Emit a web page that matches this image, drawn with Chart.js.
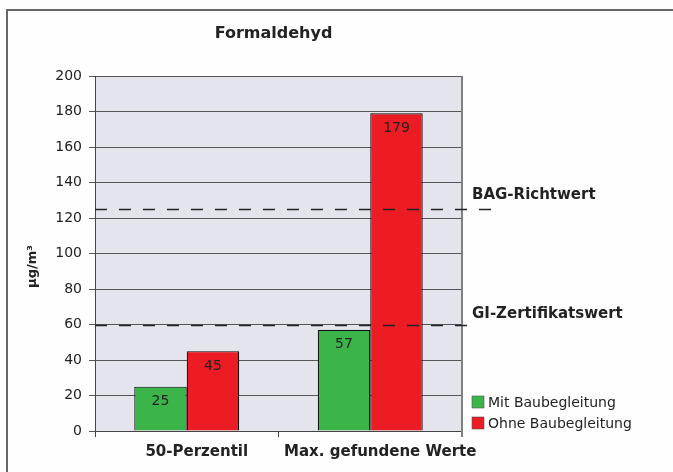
<!DOCTYPE html>
<html>
<head>
<meta charset="utf-8">
<script src="https://cdn.jsdelivr.net/npm/chart.js@4"></script>
<style>
html,body{margin:0;padding:0;background:#fdfefd;}
#wrap{position:relative;width:673px;height:472px;}
canvas{display:block;}
</style>
</head>
<body>
<div id="wrap"><canvas id="c" width="673" height="472"></canvas></div>
<script>
const categories = ['50-Perzentil', 'Max. gefundene Werte'];
const mitBaubegleitung = [25, 57];
const ohneBaubegleitung = [45, 179];
const seriesNames = ['Mit Baubegleitung', 'Ohne Baubegleitung'];
const yTicks = [0, 20, 40, 60, 80, 100, 120, 140, 160, 180, 200];
const refValues = [125, 60];
const refLabels = ['BAG-Richtwert', 'GI-Zertifikatswert'];
const chartTitle = 'Formaldehyd';
const yTitle = 'µg/m³';

const GREEN = '#3bb54a';
const RED = '#ec1c24';

const decor = {
  id: 'decor',
  beforeDraw(chart) {
    const ctx = chart.ctx, a = chart.chartArea;
    ctx.save();
    ctx.fillStyle = '#fdfefd';
    ctx.fillRect(0, 0, chart.width, chart.height);
    ctx.strokeStyle = '#666';
    ctx.lineWidth = 2;
    ctx.beginPath();
    ctx.moveTo(7, chart.height + 2); ctx.lineTo(7, 10); ctx.lineTo(chart.width + 2, 10);
    ctx.stroke();
    ctx.fillStyle = '#e4e4ec';
    ctx.fillRect(a.left, a.top, a.right - a.left, a.bottom - a.top);
    ctx.restore();
  },
  afterDatasetsDraw(chart) {
    const ctx = chart.ctx, a = chart.chartArea, ys = chart.scales.y;
    ctx.save();
    ctx.strokeStyle = '#808080';
    ctx.lineWidth = 2;
    ctx.beginPath();
    ctx.moveTo(a.right, a.top); ctx.lineTo(a.right, a.bottom + 6);
    ctx.stroke();
    ctx.fillStyle = '#222';
    ctx.font = '14px "DejaVu Sans"';
    ctx.textAlign = 'center';
    ctx.textBaseline = 'middle';
    chart.data.datasets.forEach((ds, di) => {
      chart.getDatasetMeta(di).data.forEach((bar, i) => {
        ctx.fillText(String(ds.data[i]), bar.x, bar.y + 15);
      });
    });
    const ends = [a.right + 36, a.right + 8];
    const labelDy = [-14, -10];
    ctx.strokeStyle = '#222';
    ctx.lineWidth = 1.3;
    ctx.setLineDash([12, 12]);
    refValues.forEach((v, i) => {
      const y = Math.round(ys.getPixelForValue(v)) + 0.5;
      ctx.beginPath();
      ctx.moveTo(a.left, y); ctx.lineTo(ends[i], y);
      ctx.stroke();
    });
    ctx.setLineDash([]);
    ctx.font = 'bold 15px "DejaVu Sans"';
    ctx.textAlign = 'left';
    ctx.fillStyle = '#222';
    refValues.forEach((v, i) => {
      const y = ys.getPixelForValue(v);
      ctx.fillText(refLabels[i], a.right + 10, y + labelDy[i]);
    });
    ctx.font = 'bold 16px "DejaVu Sans"';
    ctx.textAlign = 'center';
    ctx.fillText(chartTitle, (a.left + a.right) / 2 - 5, 34);
    ctx.save();
    ctx.translate(33, (a.top + a.bottom) / 2 + 13);
    ctx.rotate(-Math.PI / 2);
    ctx.font = 'bold 13px "DejaVu Sans"';
    ctx.fillText(yTitle, 0, 0);
    ctx.restore();
    ctx.font = '14px "DejaVu Sans"';
    ctx.textAlign = 'left';
    chart.data.datasets.forEach((ds, i) => {
      const y = 402 + i * 21;
      ctx.fillStyle = ds.backgroundColor;
      ctx.fillRect(a.right + 10, y - 6, 12, 12);
      ctx.strokeStyle = '#555';
      ctx.lineWidth = 0.6;
      ctx.strokeRect(a.right + 10, y - 6, 12, 12);
      ctx.fillStyle = '#222';
      ctx.fillText(ds.label, a.right + 26, y + 1);
    });
    ctx.restore();
  }
};

new Chart(document.getElementById('c'), {
  type: 'bar',
  data: {
    labels: categories,
    datasets: [
      { label: seriesNames[0], data: mitBaubegleitung, backgroundColor: GREEN, borderColor: '#111', borderWidth: 1.2 },
      { label: seriesNames[1], data: ohneBaubegleitung, backgroundColor: RED, borderColor: '#111', borderWidth: 1.2 }
    ]
  },
  options: {
    responsive: false,
    animation: false,
    devicePixelRatio: 1,
    layout: { padding: { top: 76, right: 211, left: 0, bottom: 0 } },
    datasets: { bar: { categoryPercentage: 0.572, barPercentage: 1.0 } },
    plugins: { legend: { display: false }, tooltip: { enabled: false }, title: { display: false } },
    scales: {
      x: {
        offset: true,
        grid: { offset: true, drawOnChartArea: false, color: '#444', tickLength: 6 },
        border: { color: '#444', width: 1 },
        ticks: { color: '#222', font: { family: 'DejaVu Sans', size: 15, weight: 'bold' }, padding: 6, labelOffset: 10, maxRotation: 0, autoSkip: false },
        afterFit(s) { s.height = 41; }
      },
      y: {
        min: 0, max: 200,
        afterBuildTicks(s) { s.ticks = yTicks.map(v => ({ value: v })); },
        grid: { color: '#555', lineWidth: 1, tickLength: 6 },
        border: { color: '#444', width: 1 },
        ticks: { color: '#222', font: { family: 'DejaVu Sans', size: 14 }, padding: 7 },
        afterFit(s) { s.width = 95; }
      }
    }
  },
  plugins: [decor]
});
</script>
</body>
</html>
